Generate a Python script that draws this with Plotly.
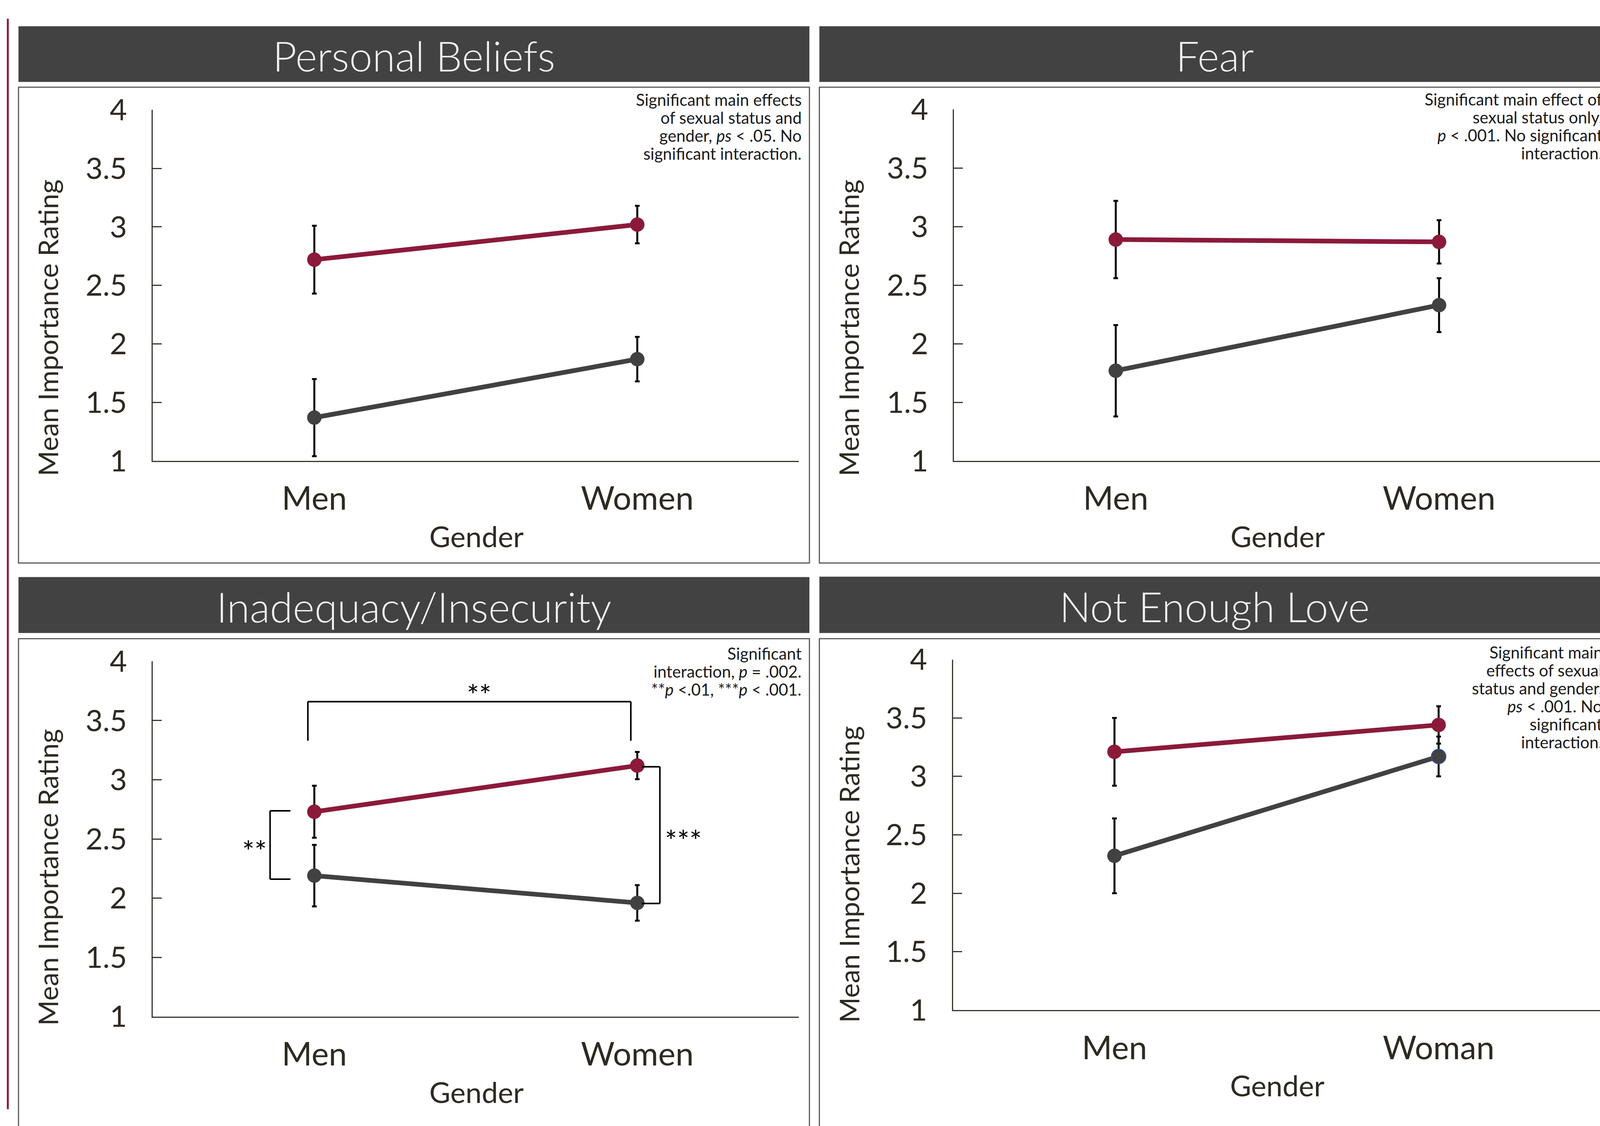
import plotly.graph_objects as go

# Reference layout is measured on a 4501 x 2883 canvas; the browser viewport is
# 4096 px wide, so the figure is drawn at viewport size with the same proportions.
REF_W, REF_H = 4501, 2883
FIG_W, FIG_H = 4096, 2883
FS = 0.95  # font scale compromise for the narrower viewport

# ---------------- data ----------------
categories = ["Men", "Women"]
categories_love = ["Men", "Woman"]
y_ticks = [1, 1.5, 2, 2.5, 3, 3.5, 4]
y_tick_labels = ["1", "1.5", "2", "2.5", "3", "3.5", "4"]

panel_titles = ["Personal Beliefs", "Fear", "Inadequacy/Insecurity", "Not Enough Love"]

personal_red = [2.72, 3.02]
personal_red_err = [0.29, 0.16]
personal_gray = [1.37, 1.87]
personal_gray_err = [0.33, 0.19]

fear_red = [2.89, 2.87]
fear_red_err = [0.33, 0.185]
fear_gray = [1.77, 2.33]
fear_gray_err = [0.39, 0.23]

inad_red = [2.73, 3.12]
inad_red_err = [0.22, 0.115]
inad_gray = [2.19, 1.96]
inad_gray_err = [0.26, 0.15]

love_red = [3.21, 3.44]
love_red_err = [0.29, 0.16]
love_gray = [2.32, 3.17]
love_gray_err = [0.32, 0.17]

notes_personal = ["Significant main effects", "of sexual status and",
                  "gender, <i>ps</i> &lt; .05. No", "significant interaction."]
notes_fear = ["Significant main effect of", "sexual status only,",
              "<i>p</i> &lt; .001. No significant", "interaction."]
notes_inad = ["Significant", "interaction, <i>p</i> = .002.",
              "**<i>p</i> &lt;.01, ***<i>p</i> &lt; .001."]
notes_love = ["Significant main", "effects of sexual", "status and gender,",
              "<i>ps</i> &lt; .001. No", "significant", "interaction."]

# significance brackets (panel 3, data units)
bracket_top_x = [-0.02, 0.98]
bracket_top_y = [3.33, 3.66]
bracket_left_x = [-0.137, -0.074]
bracket_left_y = [2.16, 2.738]
bracket_right_x = [1.014, 1.07]
bracket_right_y = [1.955, 3.11]
star_labels = ["**", "**", "***"]
star_x = [0.51, -0.185, 1.142]
star_y = [3.72, 2.40, 2.49]

# ---------------- styling ----------------
RED = "#8b1a3a"
GRAY = "#414141"
BAR = "#424242"
TXT = "#2e2a22"
FONT = "Lato"


def fx(p):
    return p / REF_W


def fy(p):
    return 1 - p / REF_H


def f(s):
    return round(s * FS, 1)


panels = [
    dict(title=panel_titles[0], cats=categories, red=personal_red, rerr=personal_red_err,
         gray=personal_gray, gerr=personal_gray_err, notes=notes_personal,
         left=52, bar=(20, 167), box_top=181, box_bottom=1439,
         xdom=(430, 2247), ydom=(241, 1169), xr=[-0.5, 1.5], note_y=210, ytitle_y=817),
    dict(title=panel_titles[1], cats=categories, red=fear_red, rerr=fear_red_err,
         gray=fear_gray, gerr=fear_gray_err, notes=notes_fear,
         left=2305, bar=(20, 167), box_top=181, box_bottom=1439,
         xdom=(2684, 4501), ydom=(240, 1169), xr=[-0.5, 1.4978], note_y=209, ytitle_y=817),
    dict(title=panel_titles[2], cats=categories, red=inad_red, rerr=inad_red_err,
         gray=inad_gray, gerr=inad_gray_err, notes=notes_inad,
         left=52, bar=(1476, 1624), box_top=1639, box_bottom=2950,
         xdom=(430, 2247), ydom=(1699, 2638), xr=[-0.5, 1.5], note_y=1674, ytitle_y=2270),
    dict(title=panel_titles[3], cats=categories_love, red=love_red, rerr=love_red_err,
         gray=love_gray, gerr=love_gray_err, notes=notes_love,
         left=2305, bar=(1475, 1624), box_top=1639, box_bottom=2950,
         xdom=(2681, 4501), ydom=(1694, 2621), xr=[-0.498, 1.4978], note_y=1671, ytitle_y=2262),
]

PANEL_W = 2225

fig = go.Figure()
shapes = []
annotations = []

for i, p in enumerate(panels):
    k = "" if i == 0 else str(i + 1)
    xa, ya = "x" + k, "y" + k
    xs = list(range(len(p["cats"])))

    gray_marker_line_colors = ["rgba(0,0,0,0)", "#2f4f9f"] if i == 3 else ["rgba(0,0,0,0)"] * 2
    gray_marker_line_widths = [0, 2.5] if i == 3 else [0, 0]

    fig.add_trace(go.Scatter(
        x=xs, y=p["gray"], mode="lines+markers", xaxis=xa, yaxis=ya,
        line=dict(color=GRAY, width=12),
        marker=dict(color=GRAY, size=37,
                    line=dict(color=gray_marker_line_colors, width=gray_marker_line_widths)),
        error_y=dict(type="data", array=p["gerr"], visible=True, color="black",
                     thickness=5, width=6),
        showlegend=False, cliponaxis=False))
    fig.add_trace(go.Scatter(
        x=xs, y=p["red"], mode="lines+markers", xaxis=xa, yaxis=ya,
        line=dict(color=RED, width=12),
        marker=dict(color=RED, size=37),
        error_y=dict(type="data", array=p["rerr"], visible=True, color="black",
                     thickness=5, width=6),
        showlegend=False, cliponaxis=False))

    fig.update_layout(**{
        ("xaxis" + k): dict(
            domain=[fx(p["xdom"][0]), fx(p["xdom"][1])], range=p["xr"], anchor=ya,
            tickvals=xs, ticktext=p["cats"], showline=True, linecolor="#3a362d",
            linewidth=3, ticks="", showgrid=False, zeroline=False,
            tickfont=dict(family=FONT, size=f(88), color=TXT), ticklabelstandoff=22),
        ("yaxis" + k): dict(
            domain=[fy(p["ydom"][1]), fy(p["ydom"][0])], range=[1, 4], anchor=xa,
            tickvals=y_ticks, ticktext=y_tick_labels, showline=True,
            linecolor="#3a362d", linewidth=3, ticks="inside", ticklen=23,
            tickwidth=3, tickcolor="#3a362d", showgrid=False, zeroline=False,
            tickfont=dict(family=FONT, size=f(80), color=TXT), ticklabelstandoff=48),
    })

    L = p["left"]
    R = L + PANEL_W
    shapes.append(dict(type="rect", xref="paper", yref="paper",
                       x0=fx(L), x1=fx(R), y0=fy(p["bar"][1]), y1=fy(p["bar"][0]),
                       fillcolor=BAR, line=dict(width=0), layer="below"))
    shapes.append(dict(type="rect", xref="paper", yref="paper",
                       x0=fx(L), x1=fx(R), y0=fy(p["box_bottom"]), y1=fy(p["box_top"]),
                       fillcolor="rgba(0,0,0,0)", line=dict(color="#5a5a5a", width=3),
                       layer="below"))
    annotations.append(dict(text=p["title"], xref="paper", yref="paper",
                            x=fx((L + R) / 2), y=fy((p["bar"][0] + p["bar"][1]) / 2 + 4),
                            xanchor="center", yanchor="middle", showarrow=False,
                            font=dict(family=FONT, size=f(112), color="#f2f2f2", weight=300)))
    annotations.append(dict(text="Mean Importance Rating", xref="paper", yref="paper",
                            x=fx(L + 82), y=fy(p["ytitle_y"]), textangle=-90,
                            xanchor="center", yanchor="middle", showarrow=False,
                            font=dict(family=FONT, size=f(74), color=TXT)))
    annotations.append(dict(text="Gender", xref="paper", yref="paper",
                            x=fx((p["xdom"][0] + min(p["xdom"][1], L + 2250)) / 2 + 2),
                            y=fy(p["ydom"][1] + 199),
                            xanchor="center", yanchor="middle", showarrow=False,
                            font=dict(family=FONT, size=f(78), color=TXT)))
    for j, line in enumerate(p["notes"]):
        annotations.append(dict(text=line, xref="paper", yref="paper",
                                x=fx(R - 20), y=fy(p["note_y"] + 47.5 * j + 4),
                                xanchor="right", yanchor="middle", showarrow=False,
                                font=dict(family=FONT, size=f(44), color="#1a1a1a")))

bx = dict(xref="x3", yref="y3", type="line", line=dict(color="black", width=4))
shapes += [
    dict(bx, x0=bracket_top_x[0], x1=bracket_top_x[0], y0=bracket_top_y[0], y1=bracket_top_y[1]),
    dict(bx, x0=bracket_top_x[0], x1=bracket_top_x[1], y0=bracket_top_y[1], y1=bracket_top_y[1]),
    dict(bx, x0=bracket_top_x[1], x1=bracket_top_x[1], y0=bracket_top_y[1], y1=bracket_top_y[0]),
    dict(bx, x0=bracket_left_x[1], x1=bracket_left_x[0], y0=bracket_left_y[1], y1=bracket_left_y[1]),
    dict(bx, x0=bracket_left_x[0], x1=bracket_left_x[0], y0=bracket_left_y[1], y1=bracket_left_y[0]),
    dict(bx, x0=bracket_left_x[0], x1=bracket_left_x[1], y0=bracket_left_y[0], y1=bracket_left_y[0]),
    dict(bx, x0=bracket_right_x[0], x1=bracket_right_x[1], y0=bracket_right_y[1], y1=bracket_right_y[1]),
    dict(bx, x0=bracket_right_x[1], x1=bracket_right_x[1], y0=bracket_right_y[1], y1=bracket_right_y[0]),
    dict(bx, x0=bracket_right_x[1], x1=bracket_right_x[0], y0=bracket_right_y[0], y1=bracket_right_y[0]),
]
for s, sx, sy in zip(star_labels, star_x, star_y):
    annotations.append(dict(text=s, xref="x3", yref="y3", x=sx, y=sy, showarrow=False,
                            xanchor="center", yanchor="middle",
                            font=dict(family=FONT, size=f(78), color="black")))

shapes.append(dict(type="line", xref="paper", yref="paper", x0=fx(22), x1=fx(22),
                   y0=0, y1=1, line=dict(color=RED, width=5)))

fig.update_layout(width=FIG_W, height=FIG_H, margin=dict(l=0, r=0, t=0, b=0),
                  paper_bgcolor="white", plot_bgcolor="rgba(0,0,0,0)",
                  shapes=shapes, annotations=annotations,
                  font=dict(family=FONT, color=TXT))

fig.write_html("out.html", config={"displayModeBar": False},
               post_script="document.body.style.margin='0';document.body.style.overflow='hidden';")
